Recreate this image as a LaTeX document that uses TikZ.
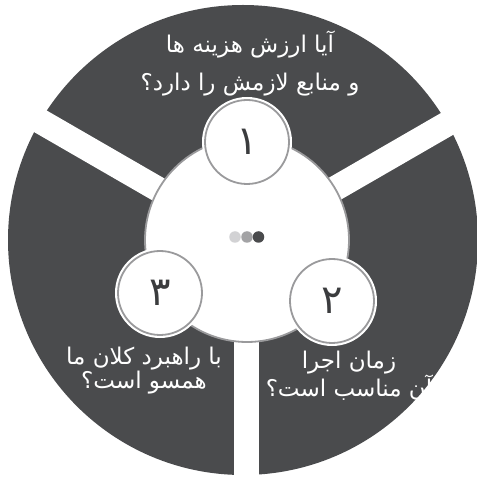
\documentclass[tikz,border=0pt]{standalone}
\usepackage{fontspec}
\newfontfamily\arabicfont[Script=Arabic]{DejaVu Sans}
\TeXXeTstate=1
\usepackage{xcolor}
\usepackage{tikz}
\usetikzlibrary{positioning}
\definecolor{slate}{HTML}{4A4B4D}
\definecolor{ringgrey}{HTML}{9A9A9C}
\definecolor{dotlight}{HTML}{D2D2D4}
\definecolor{dotmid}{HTML}{A3A3A5}
\tikzset{
	hub/.style={circle, draw=ringgrey, line width=1.8pt, fill=white,
		minimum size=204pt, inner sep=0pt},
	num/.style={circle, draw=ringgrey, line width=1.8pt, fill=white,
		minimum size=84pt, inner sep=0pt, text=slate!80!black,
		font=\arabicfont\fontsize{40}{40}\selectfont,
		preaction={draw=white, line width=6pt}},
	dot/.style={circle, fill=#1, minimum size=11.5pt, inner sep=0pt},
	qtext/.style={text=white, align=center, inner sep=0pt},
	qbig/.style={qtext, font=\arabicfont\fontsize{23}{38}\selectfont},
	qsmall/.style={qtext, font=\arabicfont\fontsize{23}{24}\selectfont},
}

\begin{document}
\begin{tikzpicture}[x=1pt, y=1pt]
				\useasboundingbox (0,0) rectangle (477,477);
				\begin{scope}
					\clip (0,0) rectangle (477,477);
					\fill[slate] (243,237) circle (235);
					\foreach \a in {30,150,270}
						\fill[white, rotate around={\a:(246,237)}] (246,224.5) rectangle (520,249.5);
				\end{scope}
				\node[hub] at (247,237) (hub) {};
				\node[num] at (247,335) (n1) {\beginR ۱\endR};
				\node[num] at (332,176) (n2) {\beginR ۲\endR};
				\node[num] at (160,184) (n3) {\beginR ۳\endR};
				\node[dot=dotlight] at (235,240) (d1) {};
				\node[dot=dotmid] at (247,240) (d2) {};
				\node[dot=slate] at (258.5,240) (d3) {};
				\node[qbig] at (250,413) (q1) {\beginR آیا ارزش هزینه ها\endR\\\beginR و منابع لازمش را  دارد؟\endR};
				\node[qsmall] at (349,101) (q2) {\beginR زمان اجرا\endR\\\beginR آن مناسب است؟\endR};
				\node[qsmall] at (144,106) (q3) {\beginR با راهبرد کلان ما\endR\\\beginR همسو است؟\endR};
			\end{tikzpicture}
\end{document}
